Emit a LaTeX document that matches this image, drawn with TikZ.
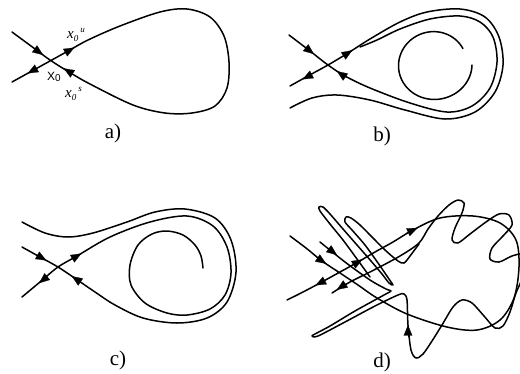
\documentclass[tikz,border=0pt]{standalone}
\usepackage{fontspec}
\setmainfont{Liberation Serif}
\newfontfamily\labsans{Liberation Sans}
\usetikzlibrary{arrows.meta,calc}
\tikzset{
  curve/.style={line width=1.5pt, line join=round, line cap=round},
  arr/.style={line width=0.2pt, -{Triangle[length=10.5pt,width=8.5pt]}},
  plab/.style={font=\fontsize{21}{21}\selectfont, inner sep=0pt},
  mlab/.style={anchor=base west, inner sep=0pt, font=\fontsize{15}{15}\selectfont\itshape}
}
\newcommand\arrowat[2]{\draw[arr] ($#1!-7pt!#2$) -- ($#1!5pt!#2$);}
\begin{document}
\begin{tikzpicture}[x=1pt,y=-1pt]
\useasboundingbox (0,0) rectangle (520,373);
\clip (0,0) rectangle (520,373);
% ---------- a ----------
\draw[curve] plot[smooth, tension=0.55] coordinates {(12,32) (31,46) (50,60) (69,72) (90,84) (133,105) (165,113) (192,113) (215,106) (227,88) (229,62) (224,36) (210,17) (187,9) (160,12) (120,26) (88,40) (69,50.5) (50,61) (31,71.5) (12,82)};
\arrowat{(39,52)}{(50,60)}
\arrowat{(70,50)}{(88,40)}
\arrowat{(68,71)}{(50,60)}
\arrowat{(32,71)}{(12,82)}
\node[mlab] (xu) at (67,38) {x\raisebox{-3pt}{\fontsize{9}{9}\selectfont 0}\hspace{2pt}\raisebox{6pt}{\fontsize{9}{9}\selectfont u}};
\node[mlab] (xs) at (65,97) {x\raisebox{-3pt}{\fontsize{9}{9}\selectfont 0}\hspace{2pt}\raisebox{6pt}{\fontsize{9}{9}\selectfont s}};
\node[anchor=base west, inner sep=0pt, font=\labsans\fontsize{12}{12}\selectfont] (x0) at (47,80) {X\raisebox{-1.5pt}{\fontsize{10}{10}\selectfont 0}};
\node[plab] (la) at (113,133) {a)};
% ---------- b ----------
\draw[curve] plot[smooth, tension=0.55] coordinates {(290,86) (307,76.5) (328,65) (348,53) (370,39) (400,22) (427,12) (460,9) (485,17) (499,37) (503,65) (495,92) (475,112) (445,119) (405,110) (370,100) (337,95) (312,98) (290,108)};
\draw[curve] plot[smooth, tension=0.55] coordinates {(289,35) (310,51) (328,65) (345,76) (370,88) (410,103) (447,112) (472,106) (490,88) (497,62) (493,37) (480,22) (460,16) (430,19) (400,29) (377,40) (360,47)};
\draw[curve] plot[domain=0:330, samples=80, smooth] ({434+(38-0.014*\x)*cos(\x)},{65+(35-0.006*\x)*sin(\x)});
\arrowat{(310,51)}{(328,65)}
\arrowat{(348,53)}{(370,39)}
\arrowat{(341,74)}{(328,65)}
\arrowat{(307,77)}{(290,86)}
\node[plab] (lb) at (382,136) {b)};
% ---------- c ----------
\draw[curve] plot[smooth, tension=0.55] coordinates {(22,247) (40,257) (58,267) (76,279) (95,292) (115,305) (143,318) (177,323) (207,318) (227,302) (236,272) (231,240) (215,218) (185,209) (155,212) (127,222) (93,233) (68,237) (45,233) (22,222)};
\draw[curve] plot[smooth, tension=0.55] coordinates {(22,297) (40,282) (58,267) (77,256) (110,237) (150,222) (187,216) (213,226) (227,247) (231,273) (225,295) (210,309) (187,315) (167,313) (145,303) (131,285) (130,265) (138,245) (152,234) (167,231) (183,235) (195,245) (201,256) (203,268)};
\arrowat{(42,258)}{(58,267)}
\arrowat{(76,279)}{(58,267)}
\arrowat{(43,280)}{(22,297)}
\arrowat{(77,256)}{(110,237)}
\node[plab] (lc) at (118,360) {c)};
% ---------- d ----------
\draw[curve] plot[smooth, tension=0.55] coordinates {(290,236) (306,248) (322,261) (340,273) (358,285) (377,298) (407,314) (447,327) (477,330) (500,320) (514,298) (519,267) (516,240) (500,223) (473,216) (440,218) (413,230) (393,242) (375,252) (358,262) (340,272) (320,283) (303,292) (287,300)};
\draw[curve] plot[smooth, tension=0.5] coordinates {(320,242) (345,262) (370,280) (386,289) (391,291) (384,295) (355,311) (330,326) (315,334) (312,336) (318,336) (345,322) (375,306) (398,295) (404,294) (407,300) (408,325) (411,350) (416,358) (423,354) (432,341) (442,325) (453,307) (462,300) (472,303) (484,316) (495,328) (503,326) (510,312) (516,293) (524,275) (528,262) (523,254) (512,256) (499,262) (490,259) (492,248) (503,236) (512,225) (509,215) (499,214) (486,222) (470,234) (458,243) (452,240) (455,228) (462,213) (464,203) (458,200) (449,205) (438,216) (428,229) (419,243) (400,256) (372,271) (350,282) (332,293)};
\draw[curve] plot[smooth, tension=0.5] coordinates {(370,277) (357,259) (343,240) (330,224) (320,211) (319,207) (323,207) (330,214) (343,229) (357,245) (371,261) (382,274) (389,283) (393,285) (389,279) (378,263) (365,245) (352,230) (345,222) (346,217) (351,218) (360,225) (372,237) (385,250) (398,261) (404,263) (410,256) (419,244)};
\arrowat{(322,261)}{(340,273)}
\arrowat{(333,252)}{(358,271)}
\arrowat{(358,262)}{(375,252)}
\arrowat{(413,230)}{(440,218)}
\arrowat{(320,283)}{(287,300)}
\arrowat{(341,287)}{(332,293)}
\arrowat{(408,330)}{(408,300)}
\node[plab] (ld) at (382,362) {d)};
\end{tikzpicture}
\end{document}
